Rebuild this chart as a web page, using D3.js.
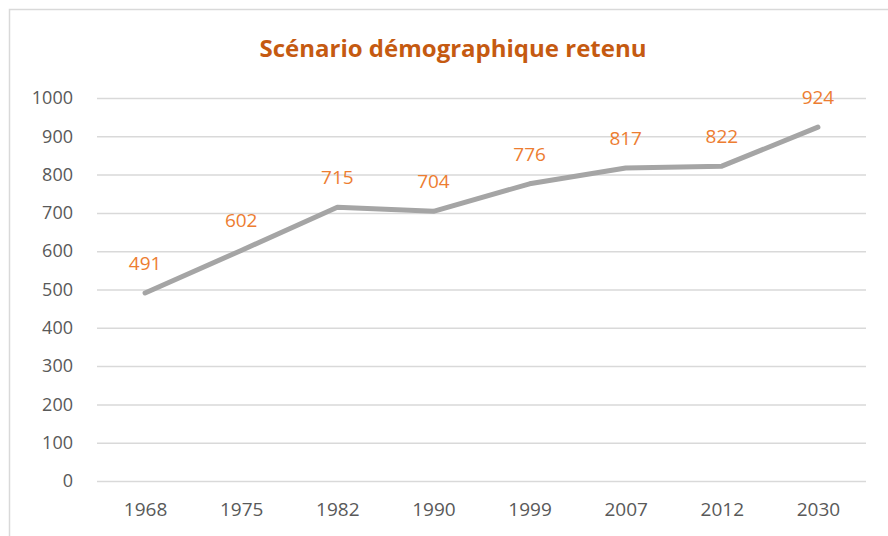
<!DOCTYPE html>
<html>
<head>
<meta charset="utf-8">
<script src="https://cdn.jsdelivr.net/npm/d3@7"></script>
<style>
  body { margin: 0; background: #fff; }
  svg, svg text { font-family: "Open Sans", Lato, sans-serif; }
</style>
</head>
<body>
<div id="chart"></div>
<script>
// Données
const annees = ["1968", "1975", "1982", "1990", "1999", "2007", "2012", "2030"];
const population = [491, 602, 715, 704, 776, 817, 822, 924];
const yTicks = [0, 100, 200, 300, 400, 500, 600, 700, 800, 900, 1000];

const svgWidth = 888, svgHeight = 536;
const margin = { top: 98, right: 22, bottom: 55, left: 97 };
const width = svgWidth - margin.left - margin.right;
const height = svgHeight - margin.top - margin.bottom;

const svg = d3.select("#chart")
    .append("svg")
    .attr("width", svgWidth)
    .attr("height", svgHeight);

// Cadre
svg.append("rect")
    .attr("x", 9.5)
    .attr("y", 9.5)
    .attr("width", svgWidth + 20)
    .attr("height", svgHeight + 20)
    .attr("fill", "none")
    .attr("stroke", "#d9d9d9")
    .attr("stroke-width", 1.5);

// Titre
svg.append("text")
    .attr("x", 453)
    .attr("y", 57)
    .attr("text-anchor", "middle")
    .attr("font-size", "24px")
    .attr("font-weight", "bold")
    .attr("fill", "#c55a11")
    .text("Scénario démographique retenu");

const g = svg.append("g")
    .attr("transform", `translate(${margin.left},${margin.top})`);

const xScale = d3.scalePoint()
    .domain(annees)
    .range([0, width])
    .padding(0.5);

const yScale = d3.scaleLinear()
    .domain([0, 1000])
    .range([height, 0]);

// Grille + axe Y
const yAxis = g.append("g")
    .call(d3.axisLeft(yScale).tickValues(yTicks).tickFormat(d3.format("d")).tickSize(-width).tickPadding(24));
yAxis.attr("font-family", null);
yAxis.select(".domain").remove();
yAxis.selectAll(".tick line").attr("stroke", "#d9d9d9").attr("stroke-width", 1.5);
yAxis.selectAll(".tick text")
    .attr("fill", "#595959")
    .attr("font-size", "18px");

// Axe X
const xAxis = g.append("g")
    .attr("transform", `translate(0,${height})`)
    .call(d3.axisBottom(xScale).tickSize(0).tickPadding(22));
xAxis.attr("font-family", null);
xAxis.select(".domain").remove();
xAxis.selectAll(".tick text")
    .attr("fill", "#595959")
    .attr("font-size", "19px");

// Ligne
const data = annees.map((a, i) => ({ annee: a, valeur: population[i] }));
const line = d3.line()
    .x(d => xScale(d.annee))
    .y(d => yScale(d.valeur));

g.append("path")
    .datum(data)
    .attr("d", line)
    .attr("fill", "none")
    .attr("stroke", "#a5a5a5")
    .attr("stroke-width", 5)
    .attr("stroke-linecap", "round")
    .attr("stroke-linejoin", "round");

// Étiquettes
g.selectAll(".label")
    .data(data)
    .enter()
    .append("text")
    .attr("class", "label")
    .attr("x", d => xScale(d.annee))
    .attr("y", d => yScale(d.valeur) - 23)
    .attr("text-anchor", "middle")
    .attr("font-size", "19px")
    .attr("fill", "#ed7d31")
    .text(d => d.valeur);
</script>
</body>
</html>
